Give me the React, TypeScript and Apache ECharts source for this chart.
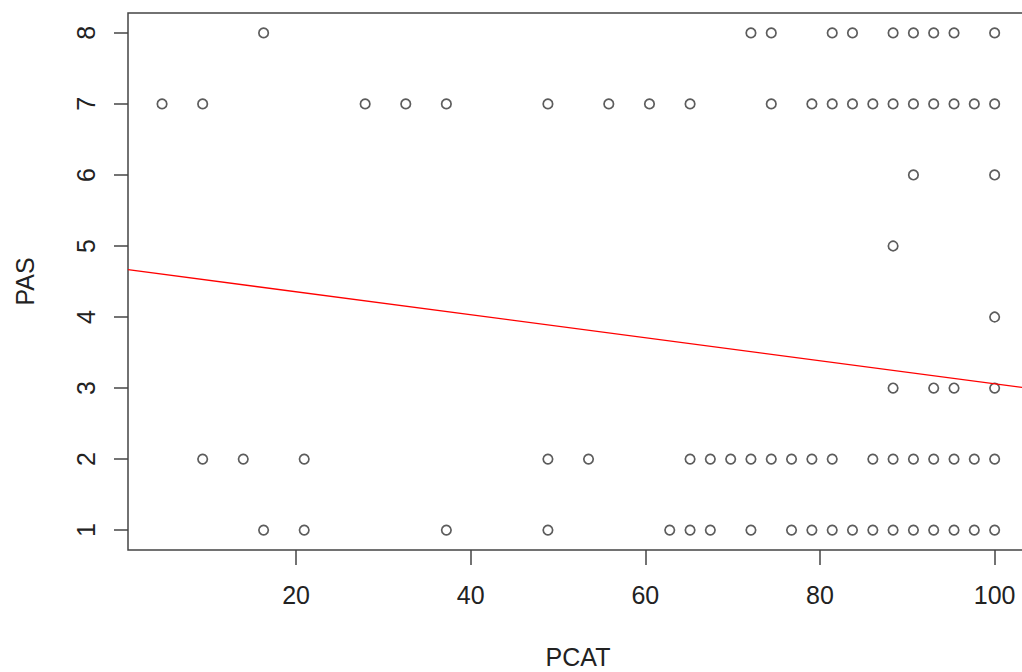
import React, { useEffect, useRef } from "react";
import * as echarts from "echarts";

// PCAT values observed at each PAS level
const pcatAtPas8 = [16.28, 72.09, 74.42, 81.4, 83.72, 88.37, 90.7, 93.02, 95.35, 100];
const pcatAtPas7 = [4.65, 9.3, 27.91, 32.56, 37.21, 48.84, 55.81, 60.47, 65.12, 74.42, 79.07, 81.4, 83.72, 86.05, 88.37, 90.7, 93.02, 95.35, 97.67, 100];
const pcatAtPas6 = [90.7, 100];
const pcatAtPas5 = [88.37];
const pcatAtPas4 = [100];
const pcatAtPas3 = [88.37, 93.02, 95.35, 100];
const pcatAtPas2 = [9.3, 13.95, 20.93, 48.84, 53.49, 65.12, 67.44, 69.77, 72.09, 74.42, 76.74, 79.07, 81.4, 86.05, 88.37, 90.7, 93.02, 95.35, 97.67, 100];
const pcatAtPas1 = [16.28, 20.93, 37.21, 48.84, 62.79, 65.12, 67.44, 72.09, 76.74, 79.07, 81.4, 83.72, 86.05, 88.37, 90.7, 93.02, 95.35, 97.67, 100];

const pasLevels = [8, 7, 6, 5, 4, 3, 2, 1];
const pcatRows = [pcatAtPas8, pcatAtPas7, pcatAtPas6, pcatAtPas5, pcatAtPas4, pcatAtPas3, pcatAtPas2, pcatAtPas1];

const xTicks = [20, 40, 60, 80, 100];
const yTicks = [1, 2, 3, 4, 5, 6, 7, 8];
const xRange = [0.75, 103.82];
const yRange = [0.72, 8.28];

// fitted regression line PAS = a + b * PCAT
const fitIntercept = 4.68;
const fitSlope = -0.0162;

const FONT = "'Liberation Sans', Arial, sans-serif";

export default function App() {
  const ref = useRef<HTMLDivElement>(null);

  useEffect(() => {
    if (!ref.current) return;
    const chart = echarts.init(ref.current, null, { renderer: "svg" });

    const points: number[][] = [];
    pcatRows.forEach((row, i) => {
      row.forEach((x) => points.push([x, pasLevels[i]]));
    });

    const linePts = xRange.map((x) => [x, fitIntercept + fitSlope * x]);

    chart.setOption({
      animation: false,
      backgroundColor: "#ffffff",
      grid: {
        left: 128,
        top: 13,
        width: 900,
        height: 537,
        show: true,
        borderColor: "#444",
        borderWidth: 1.5,
        backgroundColor: "transparent",
        containLabel: false,
        outerBoundsMode: "none",
      },
      xAxis: {
        type: "value",
        min: xRange[0],
        max: xRange[1],
        axisLine: { show: false },
        splitLine: { show: false },
        axisTick: {
          show: true,
          length: 15,
          customValues: xTicks,
          lineStyle: { color: "#444", width: 1.5 },
        },
        axisLabel: {
          customValues: xTicks,
          fontSize: 25,
          color: "#222",
          margin: 32,
          fontFamily: FONT,
        },
        name: "PCAT",
        nameLocation: "middle",
        nameGap: 94,
        nameTextStyle: { fontSize: 25, color: "#222", fontFamily: FONT },
      },
      yAxis: {
        type: "value",
        min: yRange[0],
        max: yRange[1],
        axisLine: { show: false },
        splitLine: { show: false },
        axisTick: {
          show: true,
          length: 14,
          customValues: yTicks,
          lineStyle: { color: "#444", width: 1.5 },
        },
        axisLabel: {
          customValues: yTicks,
          rotate: 90,
          fontSize: 25,
          color: "#222",
          margin: 30,
          fontFamily: FONT,
        },
        name: "PAS",
        nameLocation: "middle",
        nameGap: 91,
        nameTextStyle: { fontSize: 25, color: "#222", fontFamily: FONT },
      },
      series: [
        {
          type: "scatter",
          data: points,
          symbol: "circle",
          symbolSize: 9.5,
          itemStyle: { color: "rgba(0,0,0,0)", borderColor: "#333", borderWidth: 1.7 },
          silent: true,
        },
        {
          type: "line",
          data: linePts,
          showSymbol: false,
          lineStyle: { color: "#ff0000", width: 1.4 },
          silent: true,
        },
      ],
    });

    return () => chart.dispose();
  }, []);

  return (
    <div
      ref={ref}
      style={{ position: "fixed", left: 0, top: 0, width: 1022, height: 672, background: "#fff" }}
    />
  );
}
